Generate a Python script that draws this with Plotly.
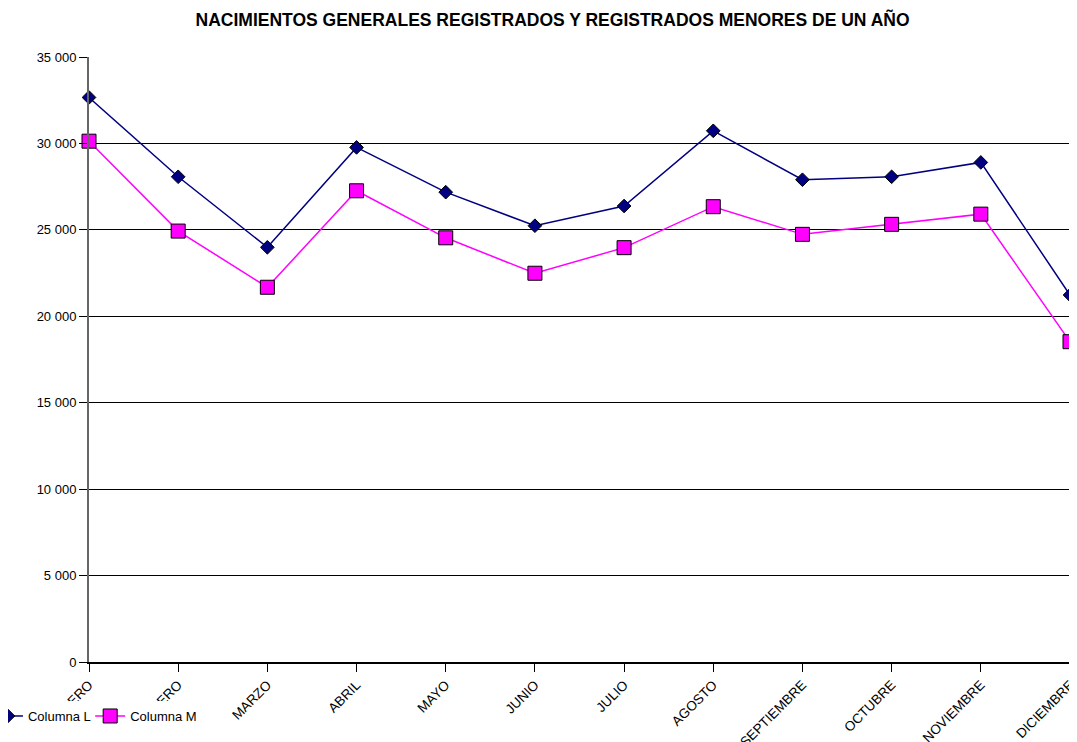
import plotly.graph_objects as go

months = ["ENERO", "FEBRERO", "MARZO", "ABRIL", "MAYO", "JUNIO", "JULIO",
          "AGOSTO", "SEPTIEMBRE", "OCTUBRE", "NOVIEMBRE", "DICIEMBRE"]
columna_l = [32660, 28070, 23990, 29770, 27180, 25240, 26380, 30730, 27900, 28070, 28900, 21230]
columna_m = [30130, 24930, 21680, 27260, 24540, 22490, 23970, 26340, 24740, 25320, 25910, 18530]
y_ticks = [0, 5000, 10000, 15000, 20000, 25000, 30000, 35000]
y_labels = ["0", "5 000", "10 000", "15 000", "20 000", "25 000", "30 000", "35 000"]

font_family = "Liberation Sans, Arial, sans-serif"

fig = go.Figure()
fig.add_trace(go.Scatter(
    x=months, y=columna_l, name="Columna L", mode="lines+markers",
    line=dict(color="#000080", width=1.5),
    marker=dict(symbol="diamond", size=10.5, color="#000080", line=dict(color="#000000", width=1)),
    cliponaxis=False, legend="legend",
))
fig.add_trace(go.Scatter(
    x=months, y=columna_m, name="Columna M", mode="lines+markers",
    line=dict(color="#FF00FF", width=1.5),
    marker=dict(symbol="square", size=14, color="#FF00FF", line=dict(color="#000000", width=1)),
    cliponaxis=False, legend="legend2",
))

# The page body adds an 8 px offset, so the figure is 8 px smaller than the window.
fig.update_layout(
    width=1069, height=734,
    margin=dict(l=81, r=7, t=49, b=80, autoexpand=False),
    paper_bgcolor="white", plot_bgcolor="white",
    font=dict(family=font_family, size=13, color="#000000"),
    title=dict(text="<b>NACIMIENTOS GENERALES REGISTRADOS Y REGISTRADOS MENORES DE UN AÑO</b>",
               x=0.5094, xanchor="center", y=0.9837, yanchor="middle",
               font=dict(family=font_family, size=17.5, color="#000000")),
    showlegend=True,
    legend=dict(orientation="h", x=-0.103, xanchor="left", y=-0.0893, yanchor="middle",
                bgcolor="white", font=dict(size=13, family=font_family),
                itemwidth=30, entrywidth=160, entrywidthmode="pixels"),
    legend2=dict(orientation="h", x=0.0012, xanchor="left", y=-0.0893, yanchor="middle",
                 bgcolor="rgba(0,0,0,0)", font=dict(size=13, family=font_family),
                 itemwidth=30),
    xaxis=dict(
        type="category", range=[0, 11], showgrid=False, automargin=False,
        showline=True, linecolor="#000000", linewidth=1.5,
        ticks="outside", ticklen=8, tickcolor="#000000",
        tickangle=-45, tickfont=dict(size=13.5, family=font_family),
        mirror=False, zeroline=False,
    ),
    yaxis=dict(
        range=[0, 35000], tickvals=y_ticks, ticktext=y_labels, automargin=False,
        showgrid=True, gridcolor="#000000", gridwidth=1,
        showline=True, linecolor="#666666", linewidth=2,
        ticks="outside", ticklen=8, tickcolor="#000000",
        tickfont=dict(size=13, family=font_family), zeroline=False,
    ),
)
fig.add_shape(type="line", xref="paper", yref="paper", x0=1, x1=1, y0=0, y1=1,
              line=dict(color="#999999", width=1.5))

fig.write_html("out.html")
